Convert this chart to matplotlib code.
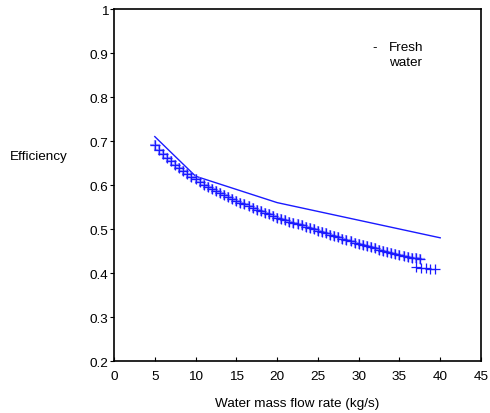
import matplotlib
matplotlib.use("Agg")
import matplotlib.pyplot as plt

plt.rcParams['font.family'] = ['Liberation Sans', 'DejaVu Sans']

# Solid line series
line_x = [5, 10, 15, 20, 40]
line_y = [0.71, 0.62, 0.59, 0.56, 0.48]

# Marker series (+)
mark_x = [5.0, 5.5, 6.0, 6.5, 7.0, 7.5, 8.0, 8.5, 9.0, 9.5,
          10.0, 10.5, 11.0, 11.5, 12.0, 12.5, 13.0, 13.5, 14.0, 14.5,
          15.0, 15.5, 16.0, 16.5, 17.0, 17.5, 18.0, 18.5, 19.0, 19.5,
          20.0, 20.5, 21.0, 21.5, 22.0, 22.5, 23.0, 23.5, 24.0, 24.5,
          25.0, 25.5, 26.0, 26.5, 27.0, 27.5, 28.0, 28.5, 29.0, 29.5,
          30.0, 30.5, 31.0, 31.5, 32.0, 32.5, 33.0, 33.5, 34.0, 34.5,
          35.0, 35.5, 36.0, 36.5, 37.0, 37.5]
mark_y = [0.690, 0.680, 0.671, 0.662, 0.654, 0.646, 0.639, 0.632, 0.625, 0.619,
          0.613, 0.607, 0.601, 0.596, 0.591, 0.586, 0.581, 0.577, 0.572, 0.568,
          0.564, 0.560, 0.556, 0.552, 0.548, 0.544, 0.540, 0.537, 0.533, 0.530,
          0.526, 0.523, 0.520, 0.517, 0.514, 0.511, 0.508, 0.505, 0.502, 0.499,
          0.496, 0.493, 0.490, 0.487, 0.484, 0.481, 0.478, 0.475, 0.472, 0.469,
          0.466, 0.463, 0.461, 0.458, 0.456, 0.453, 0.451, 0.448, 0.446, 0.443,
          0.441, 0.439, 0.437, 0.435, 0.433, 0.431]
tail_x = [37.0, 37.6, 38.2, 38.8, 39.4]
tail_y = [0.413, 0.412, 0.411, 0.410, 0.409]

x_ticks = [0, 5, 10, 15, 20, 25, 30, 35, 40, 45]
y_ticks = [0.2, 0.3, 0.4, 0.5, 0.6, 0.7, 0.8, 0.9, 1.0]
y_labels = ['0.2', '0.3', '0.4', '0.5', '0.6', '0.7', '0.8', '0.9', '1']

fig = plt.figure(figsize=(4.90, 4.14), dpi=100)
ax = fig.add_axes([0.2327, 0.1256, 0.7489, 0.8502])

blue = '#1a1aff'
fs = 9.7
ax.plot(line_x, line_y, color=blue, lw=1.0)
ax.plot(mark_x, mark_y, linestyle='none', marker='+', color='#7777ff',
        markersize=7.5, markeredgewidth=1.6, alpha=0.7)
ax.plot(mark_x, mark_y, linestyle='none', marker='+', color=blue,
        markersize=7.5, markeredgewidth=0.9)
ax.plot(tail_x, tail_y, linestyle='none', marker='+', color=blue,
        markersize=7.5, markeredgewidth=0.9)

ax.set_xlim(0, 45)
ax.set_ylim(0.2, 1.0)
ax.set_xticks(x_ticks)
ax.set_yticks(y_ticks)
ax.set_yticklabels(y_labels)
ax.tick_params(axis='x', labelsize=fs, length=3, width=0.8, direction='in', pad=6.5)
ax.tick_params(axis='y', labelsize=fs, length=3, width=0.8, direction='out', pad=1)
for s in ax.spines.values():
    s.set_linewidth(1.2)

ax.set_xlabel('Water mass flow rate (kg/s)', fontsize=fs, labelpad=11)
fig.text(10/490, 1-157/414, 'Efficiency', fontsize=fs, ha='left', va='center')

ax.text(0.703, 0.892, '-', transform=ax.transAxes, fontsize=fs, va='center')
ax.text(0.749, 0.892, 'Fresh', transform=ax.transAxes, fontsize=fs, va='center')
ax.text(0.749, 0.849, 'water', transform=ax.transAxes, fontsize=fs, va='center')

fig.savefig('out.png', dpi=100)
